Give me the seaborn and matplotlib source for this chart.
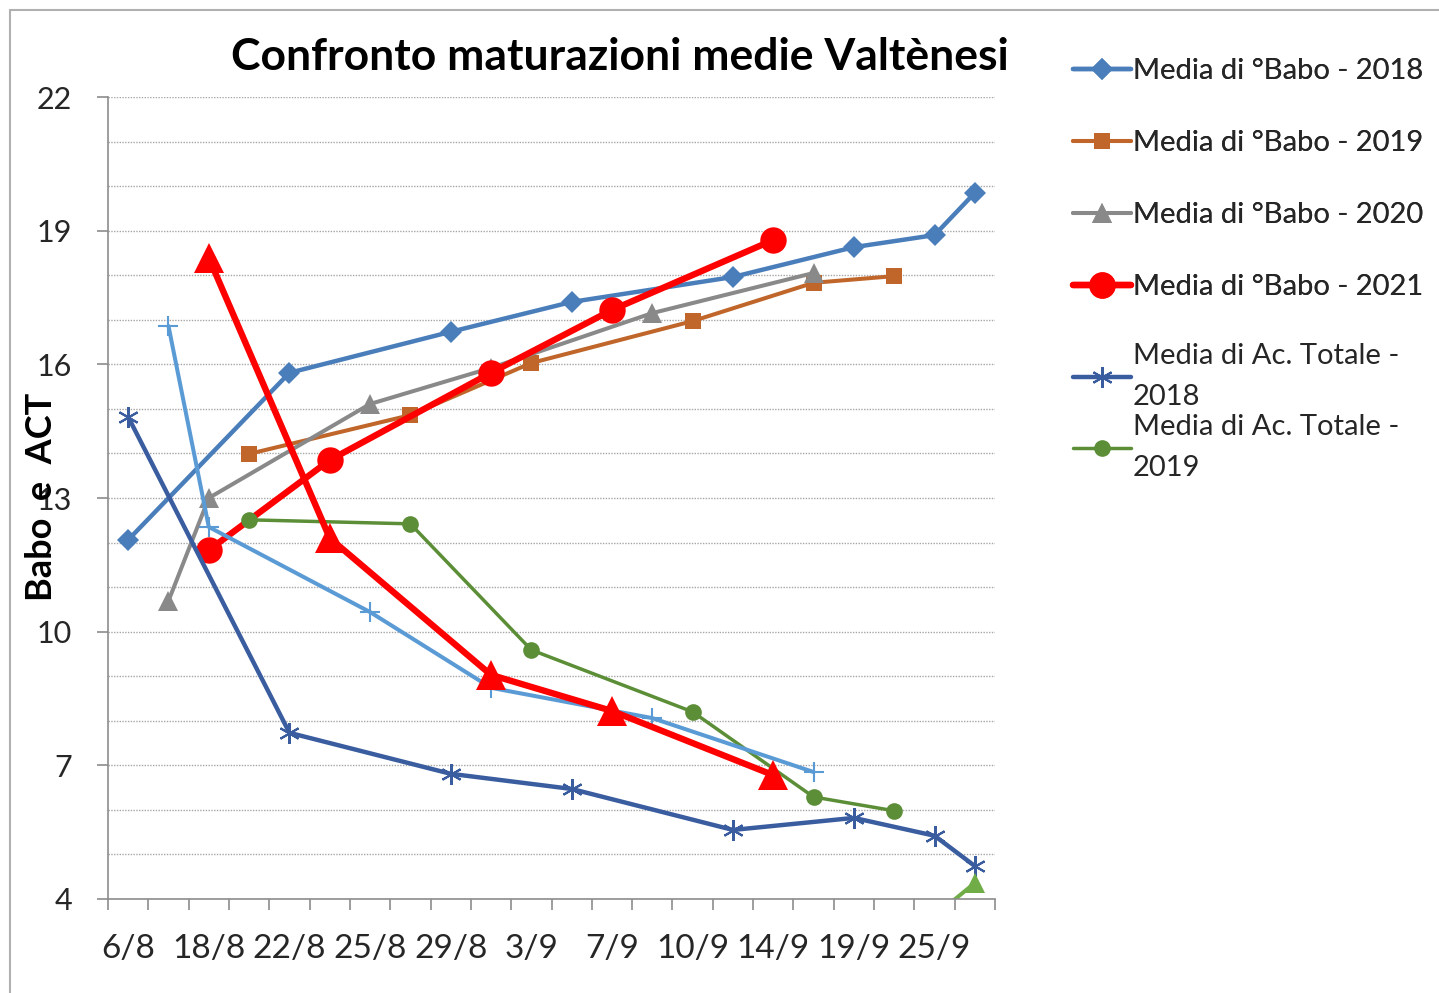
import numpy as np
import matplotlib
matplotlib.use("Agg")
import matplotlib.pyplot as plt
import seaborn as sns
from matplotlib.lines import Line2D

# categorie (22 date, etichetta ogni 2)
tick_labels = ['6/8', '18/8', '22/8', '25/8', '29/8', '3/9', '7/9', '10/9', '14/9', '19/9', '25/9']
n_slots = 22

# °Babo
babo_2018_x = [0, 4, 8, 11, 15, 18, 20, 21]
babo_2018 = [12.06, 15.81, 16.73, 17.40, 17.96, 18.63, 18.90, 19.85]
babo_2019_x = [3, 7, 10, 14, 17, 19]
babo_2019 = [13.99, 14.86, 16.03, 16.97, 17.83, 17.98]
babo_2020_x = [1, 2, 6, 9, 13, 17]
babo_2020 = [10.69, 13.00, 15.11, 15.92, 17.15, 18.05]
babo_2021_x = [2, 5, 9, 12, 16]
babo_2021 = [11.83, 13.85, 15.81, 17.22, 18.79]

# Acidità totale
act_2018_x = [0, 4, 8, 11, 15, 18, 20, 21]
act_2018 = [14.82, 7.73, 6.81, 6.47, 5.55, 5.82, 5.42, 4.74]
act_2019_x = [3, 7, 10, 14, 17, 19]
act_2019 = [12.51, 12.42, 9.59, 8.20, 6.29, 5.98]
act_2020_x = [1, 2, 6, 9, 13, 17]
act_2020 = [16.86, 12.35, 10.44, 8.74, 8.06, 6.85]
act_2021_x = [2, 5, 9, 12, 16]
act_2021 = [18.39, 12.10, 9.03, 8.22, 6.78]
extra_x = [20, 21]
extra = [3.62, 4.36]

sns.set_style("white")
plt.rcParams['font.family'] = ['Lato', 'DejaVu Sans']

fig = plt.figure(figsize=(14.39, 9.93), dpi=100)
ax = fig.add_axes([108/1439, 1 - 899/993, 887/1439, 802/993])

series = [
    (babo_2018_x, babo_2018, '#4A7EBB', 'D', 11, 3.2, 'Media di °Babo - 2018'),
    (babo_2019_x, babo_2019, '#C0662B', 's', 11, 2.9, 'Media di °Babo - 2019'),
    (babo_2020_x, babo_2020, '#898989', '^', 14, 2.9, 'Media di °Babo - 2020'),
    (babo_2021_x, babo_2021, '#FF0000', 'o', 19, 4.6, 'Media di °Babo - 2021'),
    (act_2018_x, act_2018, '#3A5DA0', (6, 2, 0), 15, 3.2, 'Media di Ac. Totale -\n2018'),
    (act_2019_x, act_2019, '#5B8E37', 'o', 12, 2.5, 'Media di Ac. Totale -\n2019'),
    (act_2020_x, act_2020, '#5B9BD5', '+', 14, 2.9, None),
    (act_2021_x, act_2021, '#FF0000', '^', 21, 4.6, None),
    (extra_x, extra, '#70AD47', '^', 14, 2.9, None),
]

for xs, ys, col, mk, ms, lw, lab in series:
    mew = 1.5 if mk in ('+', (6, 2, 0)) else 0
    sns.lineplot(x=xs, y=ys, color=col, marker=mk, markersize=ms, linewidth=lw,
                 mec=col, mew=mew, label=lab if lab else '_nolegend_', ax=ax)

ax.set_xlim(-0.5, n_slots - 0.5)
ax.set_ylim(4, 22)
ax.set_yticks(np.arange(4, 23, 3))
ax.set_yticks(np.arange(4, 23, 1), minor=True)
ax.set_xticks(np.arange(0, n_slots, 2))
ax.set_xticklabels(tick_labels, fontsize=24)
ax.set_xticks(np.arange(-0.5, n_slots, 1), minor=True)
ax.tick_params(axis='y', which='major', labelsize=22, length=8, width=1.2, color='#8C8C8C', pad=18, left=True)
ax.tick_params(axis='y', which='minor', length=0)
ax.tick_params(axis='x', which='major', length=0, pad=25)
ax.tick_params(axis='x', which='minor', length=8, width=1.2, color='#8C8C8C', bottom=True)
ax.grid(True, axis='y', which='both', linestyle=(0, (1, 1)), color='#A6A6A6', linewidth=1)
ax.grid(False, axis='x', which='both')
ax.set_xlabel('')
ax.set_ylabel('')
for s in ['top', 'right']:
    ax.spines[s].set_visible(False)
for s in ['left', 'bottom']:
    ax.spines[s].set_color('#8C8C8C')
    ax.spines[s].set_linewidth(1.2)

handles, labels = ax.get_legend_handles_labels()
ax.get_legend().remove()
leg1 = fig.legend(handles[:4], labels[:4], loc='upper left', bbox_to_anchor=(1073/1439, 1 - 58/993),
                  frameon=False, fontsize=21, handlelength=2.0, handletextpad=0.05,
                  borderpad=0, borderaxespad=0, labelspacing=1.58)
leg2 = fig.legend(handles[4:6], labels[4:6], loc='upper left', bbox_to_anchor=(1073/1439, 1 - 343/993),
                  frameon=False, fontsize=21, handlelength=2.0, handletextpad=0.05,
                  borderpad=0, borderaxespad=0, labelspacing=0.15)
for t in leg2.get_texts():
    t.set_linespacing(1.7)
fig.add_artist(leg1)

fig.text(620/1439, 1 - 57/993, 'Confronto maturazioni medie Valtènesi', ha='center', va='center',
         fontsize=32, fontweight='bold', color='black')
fig.text(42/1439, 1 - 497/993, 'Babo  e  ACT', rotation=90, ha='center', va='center',
         fontsize=26, fontweight='bold', color='black')

# cornice del grafico
fig.add_artist(Line2D([10/1439, 1], [1 - 10/993, 1 - 10/993], transform=fig.transFigure, color='#B0B0B0', lw=1.5))
fig.add_artist(Line2D([10/1439, 10/1439], [0, 1 - 10/993], transform=fig.transFigure, color='#B0B0B0', lw=1.5))

fig.savefig('out.png', dpi=100)
